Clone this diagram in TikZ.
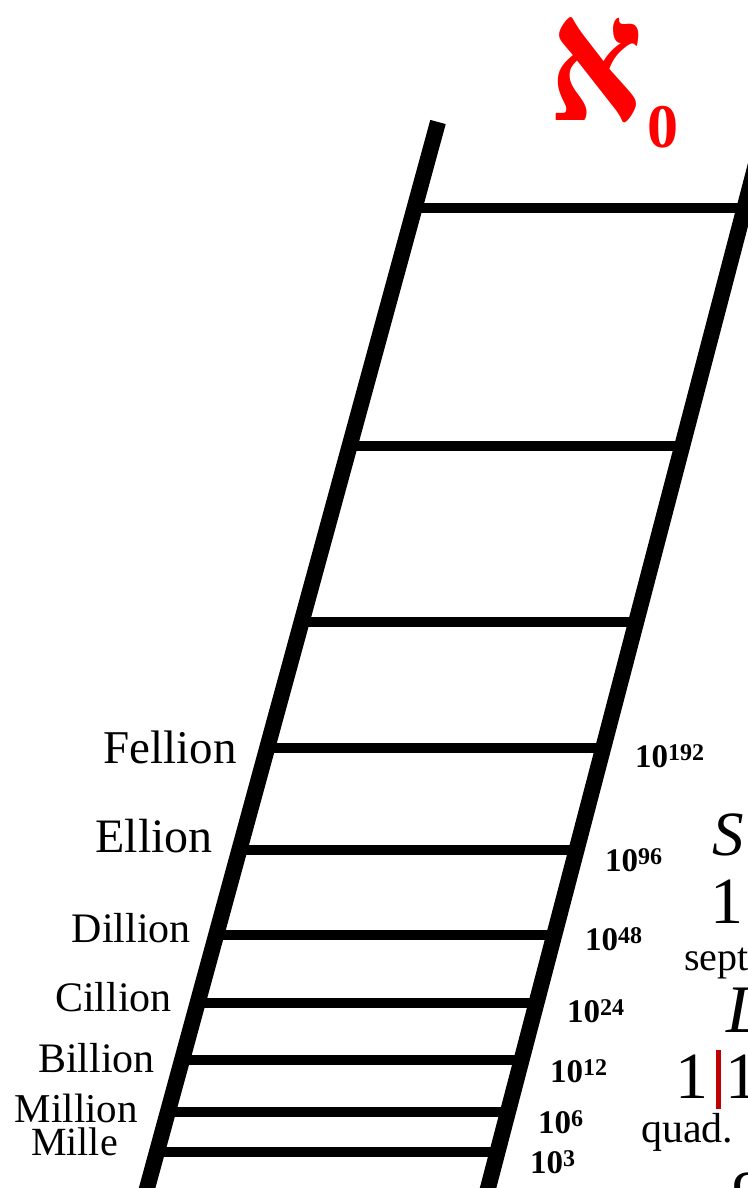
\documentclass[tikz,border=0pt]{standalone}
\usepackage{fontspec}
\setmainfont{Liberation Serif}
\newfontfamily\hebfont[Script=Hebrew]{Liberation Serif}
\TeXXeTstate=1
\usetikzlibrary{calc}
\newcommand{\pw}[1]{10\raisebox{7pt}{\fontsize{24}{24}\selectfont #1}}

\begin{document}
\begin{tikzpicture}[x=1pt, y=-1pt,
    rail/.style={line width=16pt, draw=black},
    rung/.style={line width=9.5pt, draw=black},
    rank/.style={anchor=base east, inner sep=0pt, font=\fontsize{42}{48}\selectfont},
    power/.style={anchor=base west, inner sep=0pt, font=\bfseries\fontsize{33}{36}\selectfont},
    edgetext/.style={anchor=base west, inner sep=0pt}
  ]
    \useasboundingbox (0,0) rectangle (747,1188);
    \coordinate (lt) at (438,122);
    \coordinate (lb) at (146,1192);
    \coordinate (rt) at (767,122);
    \coordinate (rb) at (487,1192);
    \draw[rail] (lt) -- (lb);
    \draw[rail] (rt) -- (rb);
    \foreach \t in {0.0804, 0.3028, 0.4673, 0.5850, 0.6804, 0.7598, 0.8234, 0.8766, 0.9252, 0.9626}
      \draw[rung] ($(lt)!\t!(lb)$) -- ($(rt)!\t!(rb)$);

    \node[anchor=base west, inner sep=0pt, xscale=0.84, text=red, font=\hebfont\bfseries\fontsize{174}{174}\selectfont] (aleph) at (549,121) {\beginR א\endR};
    \node[anchor=base west, inner sep=0pt, text=red, font=\bfseries\fontsize{62}{62}\selectfont] (zero) at (647,147) {0};

    \node[rank, font=\fontsize{47}{52}\selectfont] (fellion) at (237,763) {Fellion};
    \node[rank, font=\fontsize{48}{52}\selectfont] (ellion) at (213,852) {Ellion};
    \node[rank] (dillion) at (191,942) {Dillion};
    \node[rank] (cillion) at (172,1011) {Cillion};
    \node[rank] (billion) at (155,1072) {Billion};
    \node[rank, font=\fontsize{41}{46}\selectfont] (million) at (138,1122) {Million};
    \node[rank, font=\fontsize{40}{44}\selectfont] (mille) at (118,1155) {Mille};

    \node[power] (p192) at (635,767) {\pw{192}};
    \node[power] (p96) at (605,871) {\pw{96}};
    \node[power] (p48) at (585,950) {\pw{48}};
    \node[power] (p24) at (567,1022) {\pw{24}};
    \node[power] (p12) at (550,1082) {\pw{12}};
    \node[power] (p6) at (538,1133) {\pw{6}};
    \node[power] (p3) at (530,1173) {\pw{3}};

    \node[edgetext, font=\itshape\fontsize{63}{63}\selectfont] (sk) at (712,855) {S};
    \node[edgetext, font=\fontsize{66}{66}\selectfont] (one) at (710,923) {1};
    \node[edgetext, font=\fontsize{40}{40}\selectfont] (sept) at (684,970) {sept};
    \node[edgetext, font=\itshape\fontsize{68}{68}\selectfont] (ell) at (726,1032) {L};
    \node[edgetext, font=\fontsize{66}{66}\selectfont] (oneL) at (675,1098) {1};
    \node[edgetext, font=\fontsize{66}{66}\selectfont] (oneR) at (725,1098) {1};
    \draw[line width=5pt, draw=red!75!black] (718.5,1050) -- (718.5,1109);
    \node[edgetext, font=\fontsize{42}{42}\selectfont] (quad) at (641,1142) {quad.};
    \node[edgetext, font=\fontsize{66}{66}\selectfont] (nine) at (732,1216) {9};
  \end{tikzpicture}
\end{document}
